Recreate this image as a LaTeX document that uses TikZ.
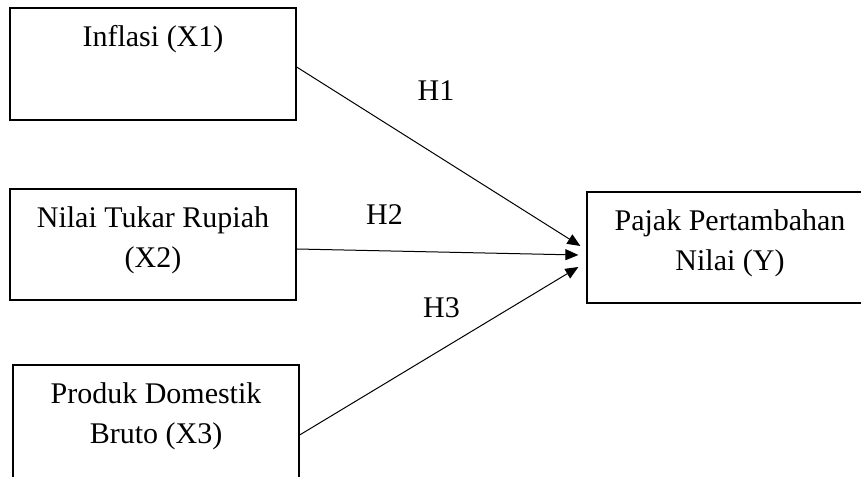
\documentclass[tikz,border=0pt]{standalone}
\usepackage{fontspec}
\setmainfont{Liberation Serif}
\usetikzlibrary{positioning,arrows.meta}

\begin{document}
\begin{tikzpicture}[x=0.4pt,y=-0.4pt,
    var/.style={draw, line width=0.5pt, minimum width=114.4pt, inner sep=0pt},
    txt/.style={font=\fontsize{12}{16}\selectfont, align=center, inner sep=0pt},
    hyp/.style={-{Triangle[length=5.2pt,width=4.4pt]}, line width=0.4pt}]
    \useasboundingbox (0,0) rectangle (861,477);
    % variable boxes
    \node[var, minimum height=44.8pt] (x1) at (153,64) {};
    \node[var, minimum height=44.4pt] (x2) at (153,244.5) {};
    \node[var, minimum height=56pt] (x3) at (156,435) {};
    \node[var, minimum height=44.4pt] (y) at (730,247.5) {};
    \node[txt, below=7pt of x1.north] (tx1) {Inflasi (X1)};
    \node[txt, below=7pt of x2.north] (tx2) {Nilai Tukar Rupiah\\(X2)};
    \node[txt, below=7pt of x3.north] (tx3) {Produk Domestik\\Bruto (X3)};
    \node[txt, below=7pt of y.north] (ty) {Pajak Pertambahan\\Nilai (Y)};
    % hypotheses
    \draw[hyp] ([yshift=-1.2pt]x1.east) -- ([shift={(-6,-1.5)}]y.west);
    \draw[hyp] ([yshift=-1.8pt]x2.east) -- ([shift={(-8,7.5)}]y.west);
    \draw[hyp] (x3.east) -- ([shift={(-8,19.5)}]y.west);
    \node[txt] (h1) at (436,90.5) {H1};
    \node[txt] (h2) at (384.5,214.5) {H2};
    \node[txt] (h3) at (441.5,307.5) {H3};
\end{tikzpicture}
\end{document}
